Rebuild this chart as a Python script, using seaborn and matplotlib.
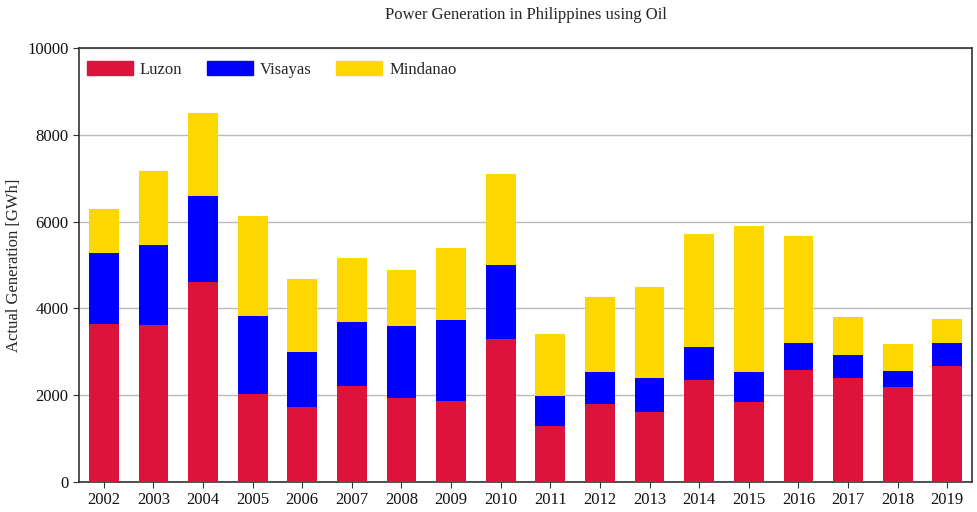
import numpy as np
import pandas as pd
import seaborn as sns
import matplotlib.pyplot as plt
from matplotlib.patches import Patch

#%% Data (GWh)
years = [2002, 2003, 2004, 2005, 2006, 2007, 2008, 2009, 2010,
         2011, 2012, 2013, 2014, 2015, 2016, 2017, 2018, 2019]
luzon = [3630, 3610, 4600, 2025, 1725, 2205, 1930, 1860, 3285,
         1295, 1800, 1615, 2355, 1845, 2580, 2400, 2190, 2675]
visayas = [1655, 1840, 2000, 1790, 1265, 1475, 1655, 1865, 1725,
           690, 735, 785, 755, 690, 620, 530, 370, 530]
mindanao = [1015, 1725, 1905, 2325, 1680, 1470, 1290, 1655, 2095,
            1425, 1725, 2090, 2600, 3355, 2460, 875, 620, 550]

colors = {'Luzon': '#dc143c', 'Visayas': '#0000ff', 'Mindanao': '#ffd700'}

df = pd.DataFrame({'Year': [str(y) for y in years],
                   'Luzon': luzon, 'Visayas': visayas, 'Mindanao': mindanao})
df['cum_LV'] = df.Luzon + df.Visayas
df['cum_LVM'] = df.cum_LV + df.Mindanao

#%% Plot
sns.set_style('ticks')
plt.rcParams['font.family'] = ['Liberation Serif', 'DejaVu Serif']
plt.rcParams['font.size'] = 12

fig = plt.figure(figsize=(9.78, 5.12), dpi=100)
ax = fig.add_axes([0.0808, 0.0586, 0.9131, 0.8477])

# stacked bars drawn as overlapping cumulative layers
for col, name in [('cum_LVM', 'Mindanao'), ('cum_LV', 'Visayas'), ('Luzon', 'Luzon')]:
    sns.barplot(data=df, x='Year', y=col, color=colors[name], width=0.6,
                saturation=1, linewidth=0, edgecolor='none', ax=ax, zorder=3)

ax.set_xlim(-0.5, len(years) - 0.5)
ax.set_ylim(0, 10000)
ax.set_yticks(np.arange(0, 10001, 2000))
ax.grid(axis='y', color='#bbbbbb', lw=1, zorder=0)
ax.set_axisbelow(True)
ax.set_xlabel('')
ax.set_ylabel('Actual Generation [GWh]', fontsize=12)
ax.set_title('Power Generation in Philippines using Oil', fontsize=12, pad=21)
ax.tick_params(labelsize=12, length=4, color='#333333', labelcolor='#111111')
for sp in ax.spines.values():
    sp.set_color('#333333')
    sp.set_linewidth(1.2)

handles = [Patch(color=colors[n], label=n) for n in ['Luzon', 'Visayas', 'Mindanao']]
ax.legend(handles=handles, loc='upper left', ncol=3, frameon=False,
          bbox_to_anchor=(-0.0065, 1.0), borderaxespad=0.4,
          handlelength=2.8, handleheight=0.9, handletextpad=0.4,
          columnspacing=1.45, fontsize=12)

fig.savefig('out.png', dpi=100)
